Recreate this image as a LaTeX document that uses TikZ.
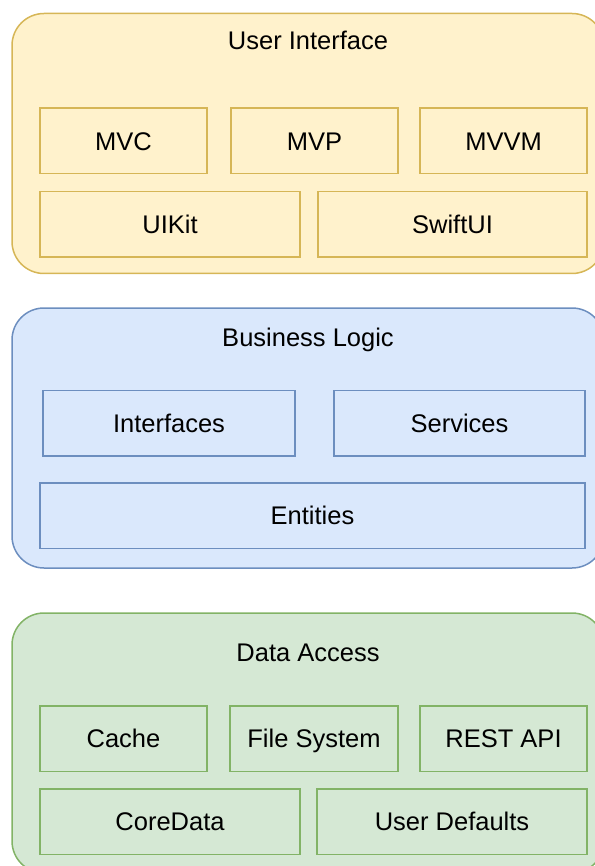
\documentclass[tikz,border=0pt]{standalone}
\usepackage{fontspec}
\setmainfont{Liberation Sans}
\definecolor{uiFill}{HTML}{FFF2CC}
\definecolor{uiLine}{HTML}{D6B656}
\definecolor{blFill}{HTML}{DAE8FC}
\definecolor{blLine}{HTML}{6C8EBF}
\definecolor{daFill}{HTML}{D5E8D4}
\definecolor{daLine}{HTML}{82B366}
\begin{document}
\begin{tikzpicture}[
    x=1pt, y=-1pt,
    every node/.style = {font=\fontsize{25.5}{30}\selectfont, inner sep=0pt, text height=18.3pt, text depth=0pt},
    layer/.style = {draw, line width=1.5pt, rounded corners=32pt, minimum width=592pt, minimum height=260pt},
    part/.style = {draw, line width=1.5pt, minimum height=65.5pt}
  ]
\useasboundingbox (0,0) rectangle (594,866);
% user interface
\node[layer, draw=uiLine, fill=uiFill] (ui) at (308,143.5) {};
\node (uiTitle) at (308,40) {User Interface};
\node[part, draw=uiLine, fill=uiFill, minimum width=167pt] (mvc) at (123.5,141) {MVC};
\node[part, draw=uiLine, fill=uiFill, minimum width=167pt] (mvp) at (314.5,141) {MVP};
\node[part, draw=uiLine, fill=uiFill, minimum width=167pt] (mvvm) at (503.5,141) {MVVM};
\node[part, draw=uiLine, fill=uiFill, minimum width=260pt] (uikit) at (170,224.5) {UIKit};
\node[part, draw=uiLine, fill=uiFill, minimum width=269pt] (swiftui) at (452.5,224.5) {SwiftUI};
% business logic
\node[layer, draw=blLine, fill=blFill] (bl) at (308,438) {};
\node (blTitle) at (308,337) {Business Logic};
\node[part, draw=blLine, fill=blFill, minimum width=252pt] (interfaces) at (169,423) {Interfaces};
\node[part, draw=blLine, fill=blFill, minimum width=251pt] (services) at (459.5,423) {Services};
\node[part, draw=blLine, fill=blFill, minimum width=545pt] (entities) at (312.5,515.5) {Entities};
% data access
\node[layer, draw=daLine, fill=daFill] (da) at (308,743) {};
\node (daTitle) at (308,652) {Data Access};
\node[part, draw=daLine, fill=daFill, minimum width=167pt] (cache) at (123.5,738.5) {Cache};
\node[part, draw=daLine, fill=daFill, minimum width=168pt] (files) at (314,738.5) {File System};
\node[part, draw=daLine, fill=daFill, minimum width=167pt] (rest) at (503.5,738.5) {REST API};
\node[part, draw=daLine, fill=daFill, minimum width=260pt] (coredata) at (170,821.5) {CoreData};
\node[part, draw=daLine, fill=daFill, minimum width=270pt] (defaults) at (452,821.5) {User Defaults};
\end{tikzpicture}
\end{document}
